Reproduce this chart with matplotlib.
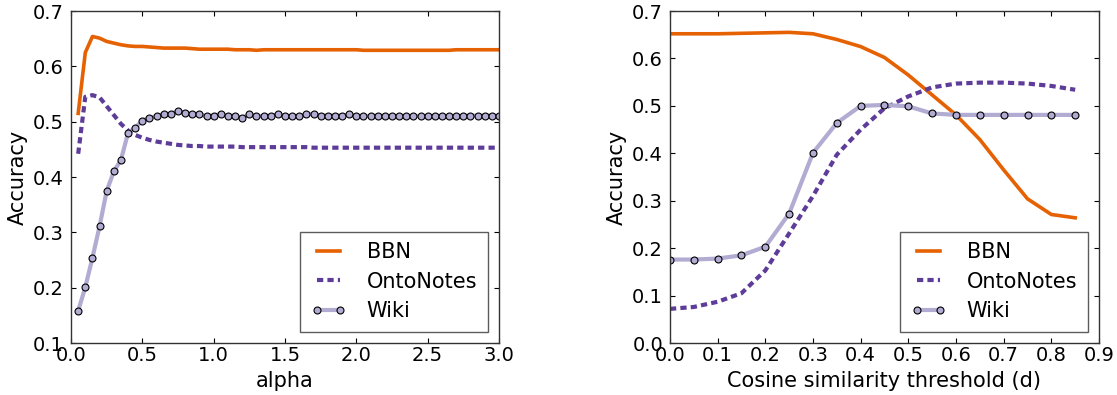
import numpy as np
import matplotlib
matplotlib.use("Agg")
import matplotlib.pyplot as plt

# --- left panel: accuracy vs alpha ---
alpha = np.round(np.arange(1, 61) * 0.05, 2)
bbn_alpha = [0.515, 0.625, 0.654, 0.651, 0.645, 0.642, 0.639, 0.637, 0.636, 0.636,
             0.635, 0.634, 0.633, 0.633, 0.633, 0.633, 0.632, 0.631, 0.631, 0.631,
             0.631, 0.631, 0.630, 0.630, 0.630, 0.629, 0.630, 0.630, 0.630, 0.630,
             0.630, 0.630, 0.630, 0.630, 0.630, 0.630, 0.630, 0.630, 0.630, 0.630,
             0.629, 0.629, 0.629, 0.629, 0.629, 0.629, 0.629, 0.629, 0.629, 0.629,
             0.629, 0.629, 0.629, 0.630, 0.630, 0.630, 0.630, 0.630, 0.630, 0.630]
onto_alpha = [0.442, 0.545, 0.548, 0.544, 0.528, 0.512, 0.496, 0.484, 0.476, 0.471,
              0.467, 0.464, 0.462, 0.460, 0.458, 0.457, 0.456, 0.456, 0.455, 0.455,
              0.455, 0.455, 0.455, 0.454, 0.454, 0.454, 0.454, 0.454, 0.454, 0.454,
              0.454, 0.454, 0.454, 0.453, 0.453, 0.453, 0.453, 0.453, 0.453, 0.453,
              0.453, 0.453, 0.453, 0.453, 0.453, 0.453, 0.453, 0.453, 0.453, 0.453,
              0.453, 0.453, 0.453, 0.453, 0.453, 0.453, 0.453, 0.453, 0.453, 0.453]
wiki_alpha = [0.158, 0.201, 0.254, 0.311, 0.375, 0.410, 0.431, 0.480, 0.489, 0.502,
              0.507, 0.510, 0.514, 0.514, 0.519, 0.516, 0.513, 0.513, 0.510, 0.511,
              0.514, 0.511, 0.510, 0.507, 0.513, 0.510, 0.510, 0.511, 0.513, 0.510,
              0.510, 0.510, 0.513, 0.514, 0.511, 0.511, 0.511, 0.511, 0.513, 0.510,
              0.510, 0.510, 0.511, 0.510, 0.510, 0.510, 0.510, 0.510, 0.510, 0.510,
              0.510, 0.510, 0.510, 0.510, 0.510, 0.511, 0.511, 0.511, 0.511, 0.510]

# --- right panel: accuracy vs cosine similarity threshold ---
thresh = np.round(np.arange(0, 18) * 0.05, 2)
bbn_d = [0.652, 0.652, 0.652, 0.653, 0.654, 0.655, 0.652, 0.640, 0.625, 0.602,
         0.565, 0.523, 0.481, 0.429, 0.365, 0.304, 0.271, 0.264]
onto_d = [0.072, 0.076, 0.087, 0.105, 0.153, 0.231, 0.310, 0.397, 0.450, 0.495,
          0.520, 0.539, 0.547, 0.549, 0.549, 0.547, 0.542, 0.534]
wiki_d = [0.176, 0.176, 0.178, 0.185, 0.203, 0.273, 0.401, 0.464, 0.500, 0.502,
          0.499, 0.484, 0.481, 0.481, 0.481, 0.481, 0.481, 0.481]

ORANGE = "#e66101"
PURPLE = "#5e3c99"
LILAC = "#b2abd2"

plt.rcParams["lines.scale_dashes"] = False

fig = plt.figure(figsize=(11.17, 3.95), dpi=100)
ax1 = fig.add_axes([0.0636, 0.1316, 0.3831, 0.8405])
ax2 = fig.add_axes([0.5998, 0.1316, 0.3841, 0.8405])


def draw(ax, x, bbn, onto, wiki):
    ax.plot(x, bbn, color=ORANGE, lw=2.6, label="BBN")
    ax.plot(x, onto, color=PURPLE, lw=3, dashes=(4.5, 3), label="OntoNotes")
    ax.plot(x, wiki, color=LILAC, lw=3, marker="o", markersize=5,
            markerfacecolor=LILAC, markeredgecolor="black", markeredgewidth=0.8,
            label="Wiki")
    ax.set_ylabel("Accuracy", fontsize=15, labelpad=4)
    ax.tick_params(direction="in", top=True, right=True, length=3.5,
                   width=0.8, labelsize=14)
    ax.tick_params(axis="x", pad=2.5)
    ax.tick_params(axis="y", pad=5)
    for s in ax.spines.values():
        s.set_color("#333333")
        s.set_linewidth(1.0)
    leg = ax.legend(loc="lower right", numpoints=2, fancybox=False,
                    fontsize=15, handlelength=1.7, handletextpad=1.0,
                    borderaxespad=0.55, labelspacing=0.45, borderpad=0.5)
    leg.get_frame().set_edgecolor("#333333")
    leg.get_frame().set_linewidth(1.0)


draw(ax1, alpha, bbn_alpha, onto_alpha, wiki_alpha)
ax1.set_xlim(0, 3.0)
ax1.set_ylim(0.1, 0.7)
ax1.set_xticks(np.arange(0, 3.01, 0.5))
ax1.set_yticks(np.arange(0.1, 0.71, 0.1))
ax1.set_xlabel("alpha", fontsize=15, labelpad=4)

draw(ax2, thresh, bbn_d, onto_d, wiki_d)
ax2.set_xlim(0, 0.9)
ax2.set_ylim(0.0, 0.7)
ax2.set_xticks(np.arange(0, 0.91, 0.1))
ax2.set_yticks(np.arange(0.0, 0.71, 0.1))
ax2.set_xlabel("Cosine similarity threshold (d)", fontsize=15, labelpad=4)

for ax in (ax1, ax2):
    ax.xaxis.set_major_formatter(matplotlib.ticker.FormatStrFormatter("%.1f"))
    ax.yaxis.set_major_formatter(matplotlib.ticker.FormatStrFormatter("%.1f"))

fig.savefig("out.png", dpi=100)
